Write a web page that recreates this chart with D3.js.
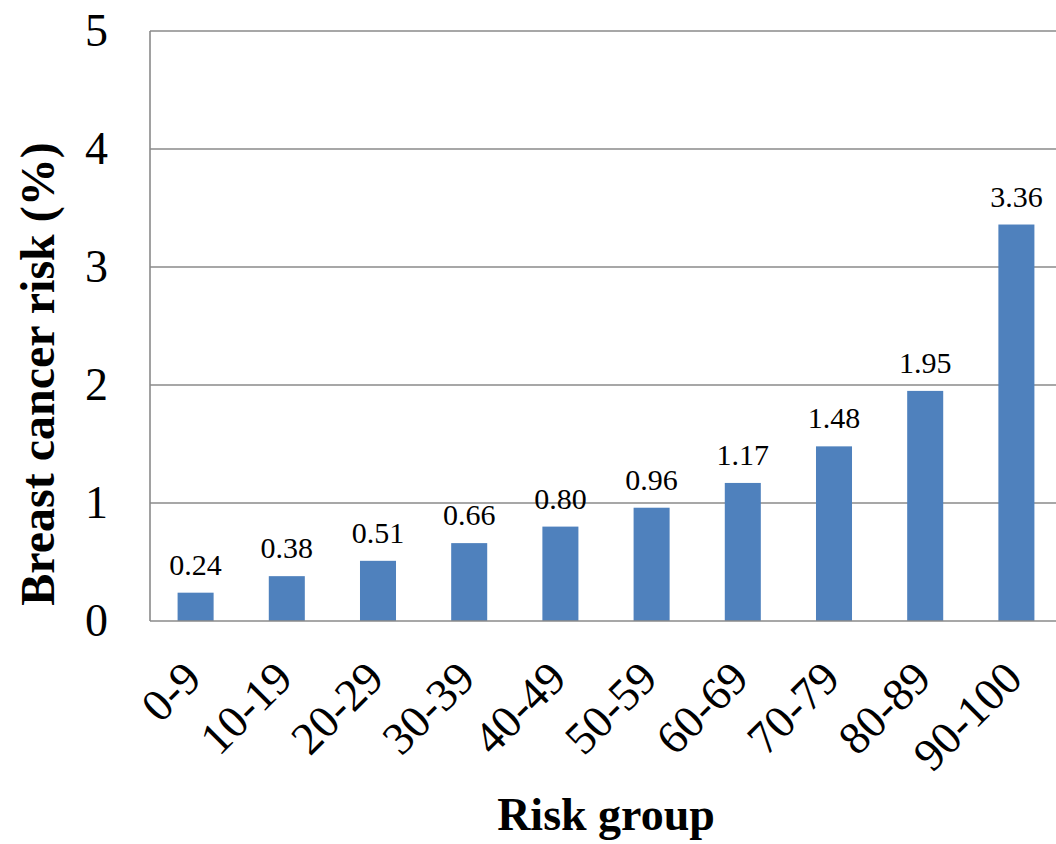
<!DOCTYPE html>
<html>
<head>
<meta charset="utf-8">
<script src="https://cdn.jsdelivr.net/npm/d3@7"></script>
<style>
  html, body { margin: 0; padding: 0; background: #fff; }
  svg { display: block; font-family: "Liberation Serif", "Times New Roman", serif; }
</style>
</head>
<body>
<svg id="chart" width="1056" height="844"></svg>
<script>
// Breast cancer risk by risk-group decile
const categories = ["0-9", "10-19", "20-29", "30-39", "40-49", "50-59", "60-69", "70-79", "80-89", "90-100"];
const riskValues = [0.24, 0.38, 0.51, 0.66, 0.80, 0.96, 1.17, 1.48, 1.95, 3.36];
const yTicks = [0, 1, 2, 3, 4, 5];
const yTitle = "Breast cancer risk (%)";
const xTitle = "Risk group";

const svg = d3.select("#chart");
const plot = { left: 150, right: 1062, top: 31, bottom: 621 };

const x = d3.scaleBand()
  .domain(categories)
  .range([plot.left, plot.right])
  .paddingInner(0.605)
  .paddingOuter(0.3025);

const y = d3.scaleLinear()
  .domain([0, 5])
  .range([plot.bottom, plot.top]);

const gridColor = "#8a8a8a";

// horizontal gridlines
svg.append("g")
  .selectAll("line")
  .data(yTicks.filter(d => d > 0))
  .join("line")
  .attr("x1", plot.left)
  .attr("x2", plot.right)
  .attr("y1", d => y(d))
  .attr("y2", d => y(d))
  .attr("stroke", gridColor)
  .attr("stroke-width", 1.6);

// bars
svg.append("g")
  .selectAll("rect")
  .data(riskValues)
  .join("rect")
  .attr("x", (d, i) => x(categories[i]))
  .attr("y", d => y(d))
  .attr("width", x.bandwidth())
  .attr("height", d => y(0) - y(d))
  .attr("fill", "#4f81bd");

// value labels
svg.append("g")
  .selectAll("text")
  .data(riskValues)
  .join("text")
  .attr("x", (d, i) => x(categories[i]) + x.bandwidth() / 2)
  .attr("y", d => y(d) - 18)
  .attr("text-anchor", "middle")
  .attr("font-size", 30)
  .attr("fill", "#000")
  .text(d => d.toFixed(2));

// axes lines
svg.append("line")
  .attr("x1", plot.left).attr("x2", plot.left)
  .attr("y1", plot.top).attr("y2", plot.bottom)
  .attr("stroke", gridColor).attr("stroke-width", 1.6);
svg.append("line")
  .attr("x1", plot.left).attr("x2", plot.right)
  .attr("y1", plot.bottom).attr("y2", plot.bottom)
  .attr("stroke", gridColor).attr("stroke-width", 1.6);

// y axis tick labels
const yAxis = d3.axisLeft(y).tickValues(yTicks).tickSize(0).tickPadding(42).tickFormat(d3.format("d"));
const gy = svg.append("g").attr("transform", `translate(${plot.left},0)`).call(yAxis);
gy.select(".domain").remove();
gy.selectAll("text")
  .attr("font-family", "Liberation Serif, Times New Roman, serif")
  .attr("font-size", 46)
  .attr("fill", "#000");

// x axis tick labels, rotated
const xAxis = d3.axisBottom(x).tickSize(0).tickPadding(0);
const gx = svg.append("g").attr("transform", `translate(0,${plot.bottom})`).call(xAxis);
gx.select(".domain").remove();
gx.selectAll("text")
  .attr("font-family", "Liberation Serif, Times New Roman, serif")
  .attr("font-size", 46)
  .attr("fill", "#000")
  .attr("text-anchor", "end")
  .attr("dy", 0)
  .attr("y", 0)
  .attr("transform", "translate(8,60) rotate(-45)");

// axis titles
svg.append("text")
  .attr("transform", "translate(54,374) rotate(-90)")
  .attr("text-anchor", "middle")
  .attr("font-size", 48)
  .attr("font-weight", "bold")
  .text(yTitle);

svg.append("text")
  .attr("x", (plot.left + plot.right) / 2)
  .attr("y", 830)
  .attr("text-anchor", "middle")
  .attr("font-size", 46)
  .attr("font-weight", "bold")
  .text(xTitle);
</script>
</body>
</html>
